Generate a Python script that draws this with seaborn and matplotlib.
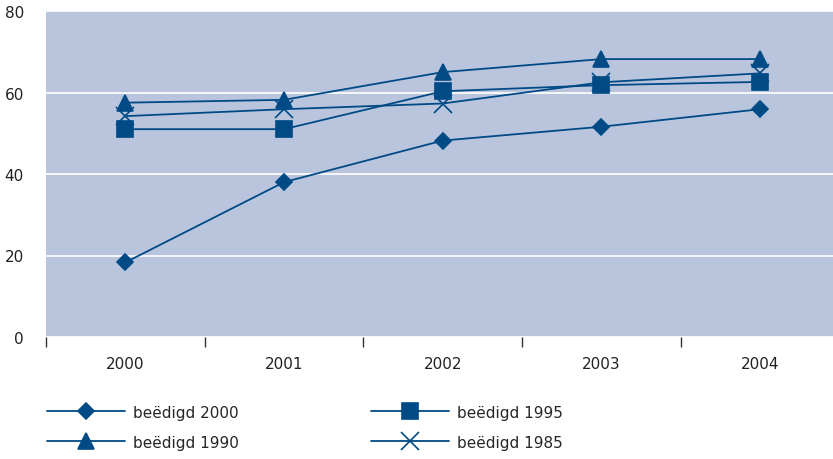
import matplotlib
matplotlib.use("Agg")
import matplotlib.pyplot as plt
import seaborn as sns
import pandas as pd
import numpy as np

years = ["2000", "2001", "2002", "2003", "2004"]
series_names = ["beëdigd 2000", "beëdigd 1990", "beëdigd 1995", "beëdigd 1985"]
v2000 = [18.3, 38.0, 48.2, 51.6, 55.9]
v1990 = [57.5, 58.2, 65.0, 68.2, 68.2]
v1995 = [51.0, 51.0, 60.3, 61.8, 62.6]
v1985 = [54.2, 55.9, 57.3, 62.5, 64.7]
yticks = [0, 20, 40, 60, 80]

sns.set_theme(style="white")
plt.rcParams['font.family'] = ['DejaVu Sans']

rows = []
for name, vals in zip(series_names, [v2000, v1990, v1995, v1985]):
    for i, (yr, v) in enumerate(zip(years, vals)):
        rows.append({"pos": i, "year": yr, "value": v, "series": name})
df = pd.DataFrame(rows)

color = "#004a86"
fig = plt.figure(figsize=(8.33, 4.60), dpi=100)
ax = fig.add_axes([46/833, (460-338)/460, 1 - 46/833, (338-12)/460])
ax.set_facecolor("#b9c5dd")

markers = {"beëdigd 2000": "D", "beëdigd 1990": "^", "beëdigd 1995": "s", "beëdigd 1985": "x"}
sizes = {"beëdigd 2000": 8, "beëdigd 1990": 12, "beëdigd 1995": 11.5, "beëdigd 1985": 13}

for name in series_names:
    sub = df[df.series == name]
    sns.lineplot(data=sub, x="pos", y="value", ax=ax, color=color, marker=markers[name],
                 markersize=sizes[name], markeredgecolor=color, markerfacecolor=color,
                 markeredgewidth=1.2, linewidth=1.3, label=name)

ax.set_xlim(-0.5, 4.46)
ax.set_ylim(0, 80)
ax.set_yticks(yticks)
ax.set_yticklabels([str(t) for t in yticks], fontsize=11, color="#222222")
ax.yaxis.grid(True, color="white", linewidth=1.2)
ax.set_axisbelow(True)
ax.tick_params(axis="y", length=0, pad=16)

ax.set_xticks(np.arange(-0.5, 4.5, 1.0))
ax.set_xticklabels([])
ax.set_xticks(np.arange(0, 5), minor=True)
ax.set_xticklabels(years, minor=True, fontsize=11, color="#222222")
ax.tick_params(axis="x", which="major", length=7, width=1, color="#333333", direction="out", bottom=True)
ax.tick_params(axis="x", which="minor", length=0, pad=14)
ax.set_xlabel("")
ax.set_ylabel("")
for s in ax.spines.values():
    s.set_visible(False)

leg = ax.legend(loc="upper left", bbox_to_anchor=(-0.016, -0.165), ncol=2, frameon=False,
                handlelength=5.1, fontsize=11, columnspacing=8.6, labelspacing=1.0,
                handletextpad=0.55)

fig.savefig("out.png", dpi=100)
